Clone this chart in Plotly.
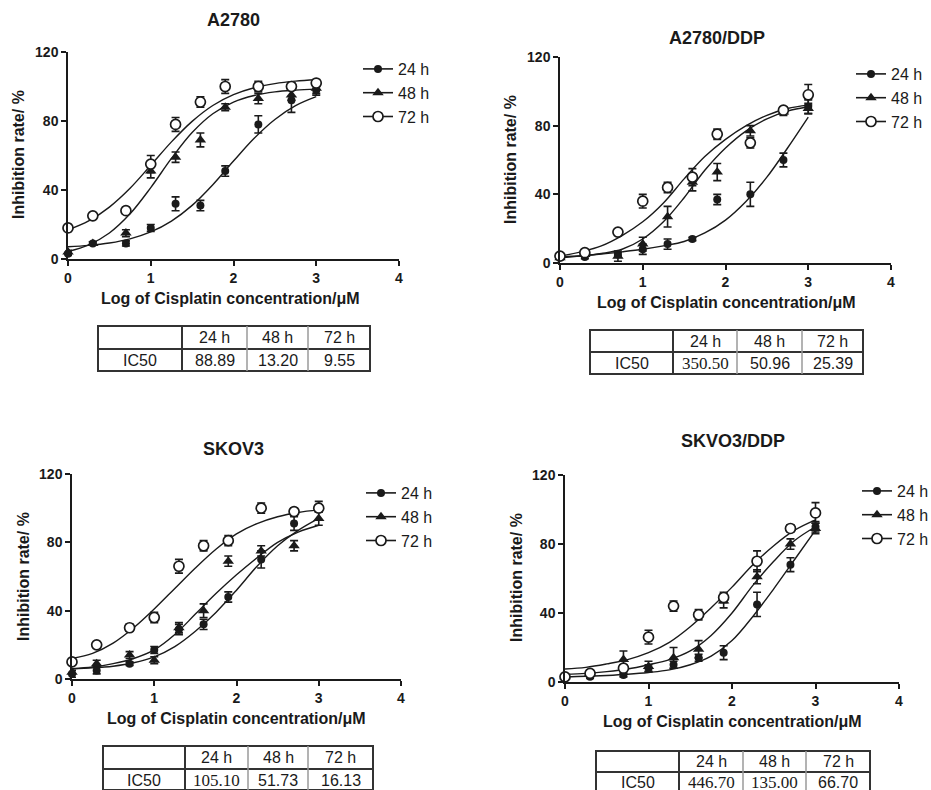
import plotly.graph_objects as go

# ---------------- data ----------------
LOG_CONC = [0, 0.3, 0.7, 1, 1.3, 1.6, 1.9, 2.3, 2.7, 3]
FIT_X = [0, 0.25, 0.5, 0.75, 1.0, 1.25, 1.5, 1.75, 2.0, 2.25, 2.5, 2.75, 3.0]
SERIES = ["24 h", "48 h", "72 h"]
PANEL_TITLES = ["A2780", "A2780/DDP", "SKOV3", "SKVO3/DDP"]
X_TICKS = [0, 1, 2, 3, 4]
Y_TICKS = [0, 40, 80, 120]
X_TITLE = "Log of Cisplatin concentration/μM"
Y_TITLE = "Inhibition rate/ %"

# A2780
a2780_24 = [3, 9, 9, 18, 32, 31, 51, 78, 92, 98]
a2780_48 = [4, 9, 15, 51, 59, 69, 88, 93, 95, 99]
a2780_72 = [18, 25, 28, 55, 78, 91, 100, 100, 100, 102]
a2780_24_err = [1, 1, 1.5, 2, 4, 3, 3, 5, 7, 3]
a2780_48_err = [1, 1, 2, 4, 3, 4, 2, 3, 3, 3]
a2780_72_err = [2, 1, 2, 5, 4, 3, 4, 3, 2, 2]
a2780_24_fit = [7.1, 7.9, 9.3, 11.7, 15.7, 22.0, 31.1, 43.1, 56.8, 70.0, 80.9, 88.9, 94.1]
a2780_48_fit = [4.3, 8.2, 15.1, 26.2, 41.4, 58.3, 73.3, 84.2, 91.0, 94.8, 96.9, 97.9, 98.5]
a2780_72_fit = [16.9, 22.1, 30.1, 41.0, 54.3, 67.9, 79.8, 89.0, 95.3, 99.3, 101.7, 103.1, 103.9]

# A2780/DDP
ddp_24 = [3.5, 3.5, 5, 8, 11, 14, 37, 40, 60, 91]
ddp_48 = [3, 5, 4, 11, 27, 47, 53, 77, 88, 90]
ddp_72 = [4, 6, 18, 36, 44, 50, 75, 70, 89, 98]
ddp_24_err = [1, 1, 1, 3, 3, 1, 3, 7, 4, 4]
ddp_48_err = [1, 1, 3, 4, 6, 5, 5, 3, 2, 3]
ddp_72_err = [1, 1, 1, 4, 3, 5, 3, 3, 2, 6]
ddp_24_fit = [3.5, 4.2, 5.2, 6.5, 8.0, 10.0, 12.5, 17.5, 25.0, 36.0, 50.0, 67.0, 85.0]
ddp_48_fit = [3, 4, 5.5, 8, 14, 24, 38, 54, 67, 77, 84, 88.5, 91]
ddp_72_fit = [4, 6.5, 10, 16, 24, 35, 49, 62, 72, 80, 86, 90, 92]

# SKOV3
skov3_24 = [3, 5, 9, 17, 29, 32, 48, 70, 91, 101]
skov3_48 = [4, 9, 14, 11, 30, 40, 69, 75, 78, 94]
skov3_72 = [10, 20, 30, 36, 66, 78, 81, 100, 98, 100]
skov3_24_err = [2, 2, 1, 2, 3, 3, 3, 5, 4, 3]
skov3_48_err = [1, 2, 2, 2, 3, 4, 3, 3, 3, 4]
skov3_72_err = [1, 1, 2, 3, 4, 3, 3, 3, 2, 2]
skov3_24_fit = [6, 6.5, 7.5, 9.5, 13, 19, 28, 39, 52, 66, 78, 87, 94]
skov3_48_fit = [6, 7, 9, 12, 17, 26, 38, 50, 61, 71, 80, 86, 90]
skov3_72_fit = [12, 15, 21, 30, 41, 53, 65, 76, 85, 91, 95, 97.5, 99]

# SKVO3/DDP
skddp_24 = [3, 3, 4, 8, 10, 14, 17, 45, 68, 90]
skddp_48 = [3, 5, 13, 9, 14, 19, 47, 61, 80, 89]
skddp_72 = [3, 5, 8, 26, 44, 39, 49, 70, 89, 98]
skddp_24_err = [1, 1, 1, 2, 2, 2, 4, 7, 4, 3]
skddp_48_err = [1, 1, 5, 3, 6, 5, 4, 4, 3, 3]
skddp_72_err = [1, 1, 2, 4, 3, 3, 3, 6, 2, 6]
skddp_24_fit = [3, 3.3, 3.8, 4.5, 5.5, 7, 10, 15, 24, 38, 54, 71, 88]
skddp_48_fit = [4.5, 5, 6, 7.5, 10, 13, 18, 27, 40, 56, 70, 82, 90]
skddp_72_fit = [7.5, 8.5, 10.5, 13, 17, 23, 32, 43, 55, 68, 79, 88, 94]

TABLE_HEADER = ["", "24 h", "48 h", "72 h"]
TABLE_ROW_LABEL = "IC50"
IC50_A2780 = [88.89, 13.20, 9.55]
IC50_A2780_DDP = [350.50, 50.96, 25.39]
IC50_SKOV3 = [105.10, 51.73, 16.13]
IC50_SKVO3_DDP = [446.70, 135.00, 66.70]

panel_points = [
    (a2780_24, a2780_48, a2780_72),
    (ddp_24, ddp_48, ddp_72),
    (skov3_24, skov3_48, skov3_72),
    (skddp_24, skddp_48, skddp_72),
]
panel_errors = [
    (a2780_24_err, a2780_48_err, a2780_72_err),
    (ddp_24_err, ddp_48_err, ddp_72_err),
    (skov3_24_err, skov3_48_err, skov3_72_err),
    (skddp_24_err, skddp_48_err, skddp_72_err),
]
panel_fits = [
    (a2780_24_fit, a2780_48_fit, a2780_72_fit),
    (ddp_24_fit, ddp_48_fit, ddp_72_fit),
    (skov3_24_fit, skov3_48_fit, skov3_72_fit),
    (skddp_24_fit, skddp_48_fit, skddp_72_fit),
]
panel_ic50 = [IC50_A2780, IC50_A2780_DDP, IC50_SKOV3, IC50_SKVO3_DDP]

# ---------------- layout geometry (pixels) ----------------
W, H = 931, 790
def px(x):
    return x / W
def py(y):
    return 1 - y / H

FONT = "Liberation Sans, Arial, sans-serif"
SERIF = "Liberation Serif, Times New Roman, serif"
INK = "#1a1a1a"

# plot areas: (x_left, x_right, y_top, y_bottom)
AREAS = [(68, 399, 52, 259), (560, 891, 57, 263), (72, 401, 474, 679), (565, 899, 475, 682)]
TITLE_POS = [(233, 20), (717, 38), (233, 449), (733, 441)]
XLAB_POS = [(230, 298), (726, 302), (236, 718), (732, 721)]
YLAB_POS = [(19, 155), (511, 160), (23, 577), (516, 578)]
LEGEND_POS = [(358, 52), (851, 57), (361, 476), (857, 474)]
TABLES = [
    ([98, 182, 247, 308, 370], 326, 349, 371),
    ([590, 673, 737, 802, 863], 330, 352, 374),
    ([103, 185, 248, 308, 373], 746, 769, 790),
    ([596, 679, 743, 806, 870], 751, 772, 795),
]
SERIF_CELLS = {(1, 0), (2, 0), (3, 0), (3, 1)}

MARKERS = [
    dict(symbol="circle", size=8, color=INK, line=dict(width=0)),
    dict(symbol="triangle-up", size=10, color=INK, line=dict(width=0)),
    dict(symbol="circle", size=10, color="white", line=dict(width=1.7, color=INK)),
]

fig = go.Figure()
layout = dict(
    width=W, height=H, margin=dict(l=0, r=0, t=0, b=0, autoexpand=False),
    paper_bgcolor="white", plot_bgcolor="white", showlegend=True,
)
annotations = []
shapes = []

def note(x, y, text, font, **kw):
    d = dict(x=px(x), y=py(y), xref="paper", yref="paper", text=text, showarrow=False,
             xanchor="center", yanchor="middle", font=font)
    d.update(kw)
    annotations.append(d)

for p in range(4):
    sfx = "" if p == 0 else str(p + 1)
    xa, ya = "x" + sfx, "y" + sfx
    lg = "legend" if p == 0 else "legend" + str(p + 1)
    x0, x1, y0, y1 = AREAS[p]
    axis_common = dict(
        showline=True, linecolor=INK, linewidth=1.5, ticks="outside", ticklen=5,
        tickwidth=1.5, tickcolor=INK, showgrid=False, zeroline=False, automargin=False,
        tickfont=dict(family=FONT, size=14, color=INK, weight="bold"), fixedrange=True,
    )
    layout["xaxis" + sfx] = dict(domain=[px(x0), px(x1)], anchor=ya, range=[0, 4],
                                 tickvals=X_TICKS, **axis_common)
    layout["yaxis" + sfx] = dict(domain=[py(y1), py(y0)], anchor=xa, range=[0, 120],
                                 tickvals=Y_TICKS, **axis_common)
    lx, ly = LEGEND_POS[p]
    layout[lg] = dict(
        x=px(lx), y=py(ly), xanchor="left", yanchor="top", bgcolor="rgba(0,0,0,0)",
        font=dict(family=FONT, size=16, color=INK), tracegroupgap=0,
    )
    # fitted curves
    for s in range(3):
        fig.add_trace(go.Scatter(
            x=FIT_X, y=panel_fits[p][s], mode="lines", xaxis=xa, yaxis=ya,
            line=dict(color=INK, width=1.4, shape="spline", smoothing=1.0),
            showlegend=False, hoverinfo="skip", cliponaxis=False,
        ))
    # points with error bars
    for s in range(3):
        fig.add_trace(go.Scatter(
            x=LOG_CONC, y=panel_points[p][s], mode="markers", xaxis=xa, yaxis=ya,
            marker=MARKERS[s], name=SERIES[s], showlegend=False, cliponaxis=False,
            error_y=dict(type="data", array=panel_errors[p][s], color=INK,
                         thickness=1.6, width=4),
        ))
    # legend entries
    for s in range(3):
        fig.add_trace(go.Scatter(
            x=[None], y=[None], mode="lines+markers", xaxis=xa, yaxis=ya,
            marker=MARKERS[s], line=dict(color=INK, width=1.6), name=SERIES[s],
            legend=lg, showlegend=True,
        ))
    # titles and axis labels
    tx, ty = TITLE_POS[p]
    note(tx, ty, PANEL_TITLES[p], dict(family=FONT, size=18, color=INK, weight="bold"))
    ax_, ay_ = XLAB_POS[p]
    note(ax_, ay_, X_TITLE, dict(family=FONT, size=16, color=INK, weight="bold"))
    bx, by = YLAB_POS[p]
    note(bx, by, Y_TITLE, dict(family=FONT, size=16, color=INK, weight="bold"), textangle=-90)
    # table
    cols, t_top, t_mid, t_bot = TABLES[p]
    dark = dict(color="#333333", width=2)
    light = dict(color="#9a9a9a", width=1.5)
    shapes.append(dict(type="rect", xref="paper", yref="paper", x0=px(cols[0]), x1=px(cols[-1]),
                       y0=py(t_bot), y1=py(t_top), line=dark))
    shapes.append(dict(type="line", xref="paper", yref="paper", x0=px(cols[0]), x1=px(cols[-1]),
                       y0=py(t_mid), y1=py(t_mid), line=dark))
    for ci in range(1, 4):
        shapes.append(dict(type="line", xref="paper", yref="paper", x0=px(cols[ci]), x1=px(cols[ci]),
                           y0=py(t_bot), y1=py(t_top), line=dark if ci == 1 else light))
    row1 = (t_top + t_mid) / 2
    row2 = t_mid + (t_mid - t_top) / 2
    for ci in range(1, 4):
        cx = (cols[ci] + cols[ci + 1]) / 2
        note(cx, row1, TABLE_HEADER[ci], dict(family=FONT, size=16, color=INK))
        fam = SERIF if (p, ci - 1) in SERIF_CELLS else FONT
        note(cx, row2, f"{panel_ic50[p][ci - 1]:.2f}",
             dict(family=fam, size=17 if fam == SERIF else 16, color=INK))
    note((cols[0] + cols[1]) / 2, row2, TABLE_ROW_LABEL, dict(family=FONT, size=16, color=INK))

layout["annotations"] = annotations
layout["shapes"] = shapes
fig.update_layout(**layout)
fig.write_html(
    "out.html",
    config={"displayModeBar": False},
    post_script="document.body.style.margin='0';document.body.style.overflow='hidden';",
)
